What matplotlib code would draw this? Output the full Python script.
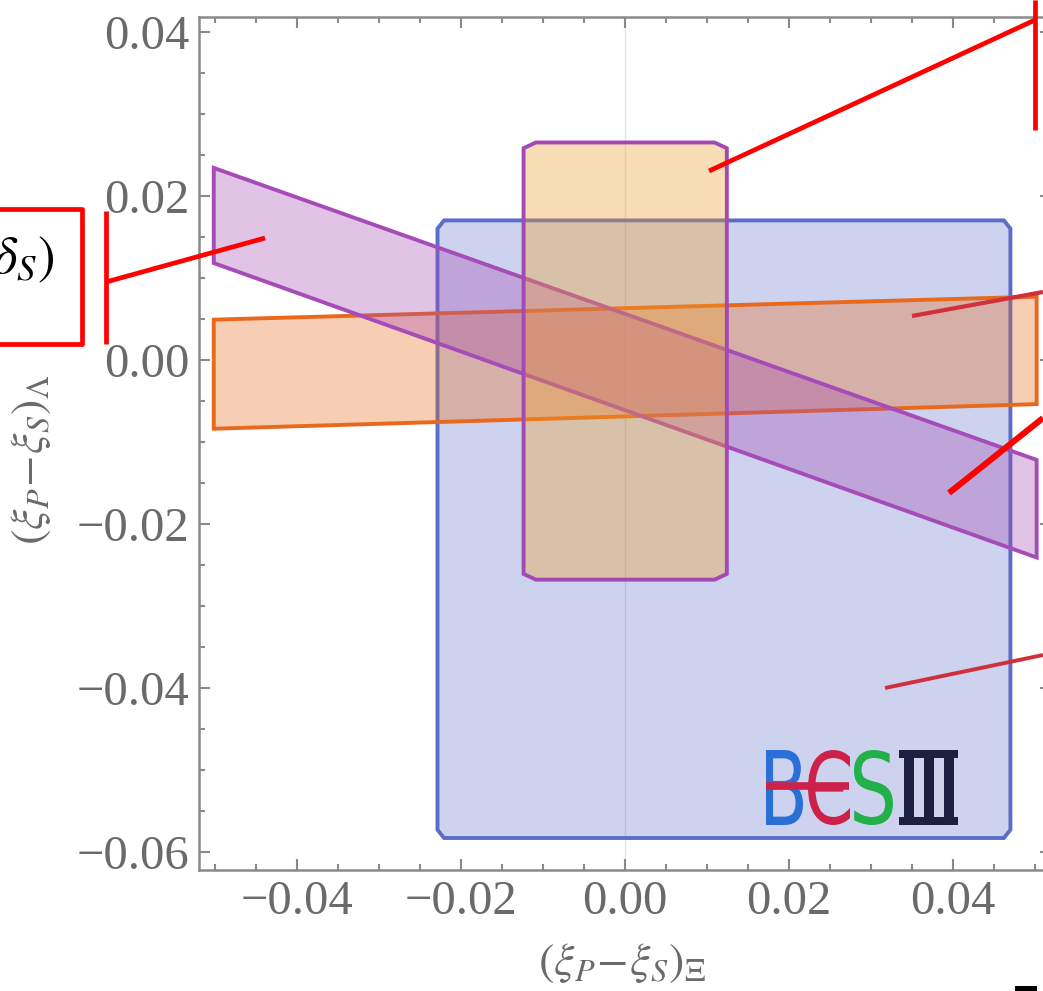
import matplotlib
matplotlib.use("Agg")
import matplotlib.pyplot as plt
from matplotlib.patches import Polygon, Rectangle, PathPatch
from matplotlib.lines import Line2D
from matplotlib.textpath import TextPath
from matplotlib.font_manager import FontProperties
from matplotlib.transforms import Affine2D
from matplotlib.ticker import MultipleLocator, FuncFormatter

plt.rcParams['font.family'] = ['Liberation Serif', 'DejaVu Serif']
plt.rcParams['mathtext.fontset'] = 'stix'

W, H = 1043, 991

# ---- data ----
# BESIII box: (x_min, x_max, y_min, y_max)
besiii_box = (-0.0229, 0.0470, -0.0583, 0.0170)
# narrow box with purple edge
narrow_box = (-0.0124, 0.0124, -0.0268, 0.0265)
# orange band: x ends and (top, bottom) at each end
orange_x = [-0.0502, 0.0502]
orange_top = [0.0049, 0.0077]
orange_bot = [-0.0084, -0.0054]
# purple band
purple_x = [-0.0502, 0.0502]
purple_top = [0.0234, -0.0122]
purple_bot = [0.0118, -0.0241]

x_ticks = [-0.04, -0.02, 0.00, 0.02, 0.04]
y_ticks = [-0.06, -0.04, -0.02, 0.00, 0.02, 0.04]
xlim = (-0.052, 0.052)
ylim = (-0.0622, 0.0418)

# axes placement in pixels of the screenshot
ax_l, ax_r, ax_t, ax_b = 199, 1051.4, 17, 870

fig = plt.figure(figsize=(W / 100, H / 100), dpi=100)
ax = fig.add_axes([ax_l / W, 1 - ax_b / H, (ax_r - ax_l) / W, (ax_b - ax_t) / H])
ax.set_xlim(*xlim)
ax.set_ylim(*ylim)


def chamfered(box, cx, cy):
    x0, x1, y0, y1 = box
    return [(x0 + cx, y0), (x1 - cx, y0), (x1, y0 + cy), (x1, y1 - cy),
            (x1 - cx, y1), (x0 + cx, y1), (x0, y1 - cy), (x0, y0 + cy)]


def band(xs, top, bot):
    return [(xs[0], top[0]), (xs[1], top[1]), (xs[1], bot[1]), (xs[0], bot[0])]


ax.axvline(0, color='#e4e4e4', lw=1, zorder=0)

edge_lw = 2.8
# BESIII region
ax.add_patch(Polygon(chamfered(besiii_box, 0.0008, 0.0010), closed=True,
                     facecolor=(91/255, 109/255, 200/255, 0.30),
                     edgecolor='#5b6dc8', lw=edge_lw, zorder=1))
# orange band
ax.add_patch(Polygon(band(orange_x, orange_top, orange_bot), closed=True,
                     facecolor=(232/255, 104/255, 28/255, 0.33),
                     edgecolor='#e8681c', lw=edge_lw, zorder=2))
# purple band
ax.add_patch(Polygon(band(purple_x, purple_top, purple_bot), closed=True,
                     facecolor=(164/255, 73/255, 176/255, 0.33),
                     edgecolor='#a64cb8', lw=edge_lw, zorder=3))
# narrow box
ax.add_patch(Polygon(chamfered(narrow_box, 0.0015, 0.0007), closed=True,
                     facecolor=(240/255, 160/255, 40/255, 0.35),
                     edgecolor='#a349b5', lw=edge_lw, zorder=4))

# frame and ticks
for s in ax.spines.values():
    s.set_color('#8a8a8a')
    s.set_linewidth(1.8)
ax.xaxis.set_minor_locator(MultipleLocator(0.005))
ax.yaxis.set_minor_locator(MultipleLocator(0.005))
ax.set_xticks(x_ticks)
ax.set_yticks(y_ticks)
fmt = FuncFormatter(lambda v, p: ('%.2f' % v).replace('-', '\u2212'))
ax.xaxis.set_major_formatter(fmt)
ax.yaxis.set_major_formatter(fmt)
ax.tick_params(which='both', direction='in', top=True, right=True,
               color='#8a8a8a', width=1.5)
ax.tick_params(which='major', length=8, labelsize=35, labelcolor='#6a6a6a', pad=7)
ax.tick_params(which='minor', length=4)

fig.text(622 / W, 1 - 963 / H, r'$(\xi_P\!-\!\xi_S)_{\Xi}$', fontsize=33,
         color='#6a6a6a', ha='center', va='center')
fig.text(31 / W, 1 - 460 / H, r'$(\xi_P\!-\!\xi_S)_{\Lambda}$', fontsize=33,
         color='#6a6a6a', ha='center', va='center', rotation=90)


# ---- BESIII logo ----
def fx(px):
    return (px - ax_l) / (ax_r - ax_l)


def fy(py):
    return (ax_b - py) / (ax_b - ax_t)


def letter(s, px0, px1, py0, py1, color):
    tp = TextPath((0, 0), s, size=1, prop=FontProperties(family='DejaVu Sans'))
    e = tp.get_extents()
    x0, x1, y0, y1 = fx(px0), fx(px1), fy(py1), fy(py0)
    tr = Affine2D().translate(-e.x0, -e.y0).scale((x1 - x0) / e.width, (y1 - y0) / e.height).translate(x0, y0)
    ax.add_patch(PathPatch(tr.transform_path(tp), transform=ax.transAxes,
                           facecolor=color, lw=0, zorder=6))


letter('B', 766, 803, 750, 825, '#2a6fd6')
letter('\u0404', 808, 850, 750, 825, '#cc2249')
letter('S', 854, 893, 750, 825, '#22b04b')
ax.add_line(Line2D([fx(766), fx(849)], [fy(786), fy(786)], transform=ax.transAxes,
                   color='#cc2249', lw=5.5, solid_capstyle='butt', zorder=7))
navy = '#1c2040'
for (a, b, c, d) in [(899, 958, 750, 758), (899, 958, 817, 825),
                     (904, 914, 750, 825), (924, 934, 750, 825), (944, 954, 750, 825)]:
    ax.add_patch(Rectangle((fx(a), fy(d)), fx(b) - fx(a), fy(c) - fy(d),
                           transform=ax.transAxes, facecolor=navy, lw=0, zorder=6))

# ---- red annotation overlay (screenshot pixels) ----
pix = Affine2D().scale(1 / W, -1 / H).translate(0, 1) + fig.transFigure


def red(xs, ys, color='#ff0000', lw=3.4):
    fig.add_artist(Line2D(xs, ys, transform=pix, color=color, lw=lw,
                          solid_capstyle='butt', zorder=10))


red([-10, 82, 82, -10], [209, 209, 344, 344])
red([106, 106], [211, 344])
red([106, 265], [282, 238])
red([709, 1035], [171, 20])
red([1035, 1035], [0, 130])
red([912, 1043], [316, 292], color='#d0303c', lw=3.0)
red([949, 1043], [493, 418], lw=4.4)
red([885, 1043], [688, 655], color='#d0303c', lw=2.8)
fig.text(54 / W, 1 - 260 / H, r'$\delta_S)$', fontsize=38, color='black',
         ha='right', va='center')
fig.add_artist(Rectangle((1015, 986), 22, 6, transform=pix, facecolor='black', lw=0))

fig.savefig('out.png', dpi=100)
